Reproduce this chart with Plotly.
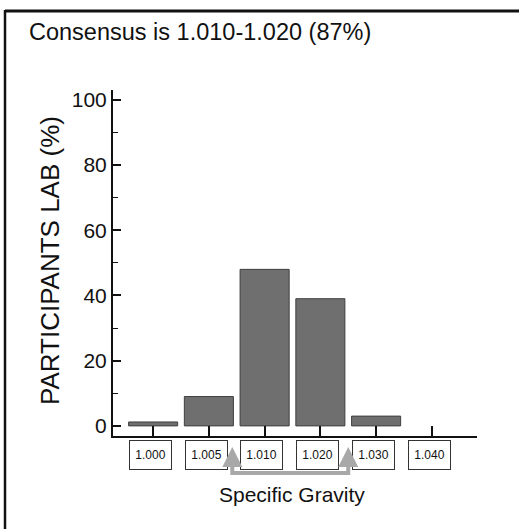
import plotly.graph_objects as go

categories = ["1.000", "1.005", "1.010", "1.020", "1.030", "1.040"]
participants_pct = [1.2, 9, 48, 39, 3, 0]
y_tick_vals = [0, 20, 40, 60, 80, 100]
title_text = "Consensus is 1.010-1.020 (87%)"
x_title = "Specific Gravity"
y_title = "PARTICIPANTS LAB (%)"

W, H = 519, 529
L, R, T, B = 113, 42, 90, 93
pw, ph = W - L - R, H - T - B

def px(xpix):
    return (xpix - L) / pw

def py(ypix):
    return 1 - (ypix - T) / ph

xs = list(range(len(categories)))

fig = go.Figure()
fig.add_trace(go.Bar(
    x=xs, y=participants_pct, width=0.88,
    marker=dict(color="#6f6f6f",
                line=dict(color="#3f3f3f", width=[1 if v > 0 else 0 for v in participants_pct])),
    showlegend=False, hoverinfo="skip",
))

annotations = []
for i, c in enumerate(categories):
    annotations.append(dict(
        x=i - 0.05, y=py(454.5), xref="x", yref="paper", text=c, showarrow=False,
        font=dict(family="Liberation Sans Narrow, Arial Narrow, Liberation Sans, Arial", size=12, color="#111"),
        bordercolor="#333", borderwidth=1, borderpad=0, width=41, height=28,
        bgcolor="white", xanchor="center", yanchor="middle",
    ))
annotations.append(dict(x=px(27), y=py(32), xref="paper", yref="paper", text=title_text,
                        showarrow=False, xanchor="left", yanchor="middle",
                        font=dict(family="Liberation Sans, Arial", size=23.5, color="#111")))
annotations.append(dict(x=px(292), y=py(494), xref="paper", yref="paper", text=x_title,
                        showarrow=False, xanchor="center", yanchor="middle",
                        font=dict(family="Liberation Sans Narrow, Arial Narrow, Liberation Sans, Arial", size=21, color="#111")))
annotations.append(dict(x=px(50), y=py(261), xref="paper", yref="paper", text=y_title,
                        showarrow=False, xanchor="center", yanchor="middle", textangle=-90,
                        font=dict(family="Liberation Sans, Arial", size=26, color="#111")))

shapes = [
    dict(type="line", xref="paper", yref="paper", x0=px(5), x1=px(519), y0=py(11), y1=py(11),
         line=dict(color="#111", width=3), layer="above"),
    dict(type="line", xref="paper", yref="paper", x0=px(5), x1=px(5), y0=py(10), y1=py(529),
         line=dict(color="#111", width=2.5), layer="above"),
]
gray = "#a8a8a8"
xl, xr = 1.5 - 0.08, 3.5 + 0.0
shapes.append(dict(type="path", xref="x", yref="paper",
                   path=f"M {xl},{py(452)} L {xl},{py(473)} L {xr},{py(473)} L {xr},{py(452)}",
                   line=dict(color=gray, width=4)))
for xa in (xl, xr):
    annotations.append(dict(x=xa, y=py(447), xref="x", yref="paper",
                            ax=0, ay=9, text="", showarrow=True,
                            arrowhead=2, arrowsize=1.0, arrowwidth=4, arrowcolor=gray))

fig.update_layout(
    width=W, height=H, margin=dict(l=L, r=R, t=T, b=B),
    paper_bgcolor="white", plot_bgcolor="white",
    annotations=annotations, shapes=shapes,
    font=dict(family="Liberation Sans, Arial", color="#111"),
    xaxis=dict(range=[-0.72, 5.81], tickvals=xs, ticktext=[""] * len(xs),
               ticks="inside", ticklen=10, tickcolor="#111", tickwidth=1.5,
               showline=True, linecolor="#111", linewidth=2, showgrid=False, zeroline=False,
               fixedrange=True),
    yaxis=dict(range=[-3.1, 103], tickvals=y_tick_vals, ticks="inside", ticklen=8,
               tickcolor="#111", tickwidth=1.5, showline=True, linecolor="#111", linewidth=2,
               showgrid=False, zeroline=False,
               tickfont=dict(family="Liberation Sans, Arial", size=21, color="#111"),
               minor=dict(ticks="inside", ticklen=5, dtick=10, tickcolor="#111", tickwidth=1.2),
               fixedrange=True),
)
fig.write_html("out.html", config={"displayModeBar": False},
               post_script="document.body.style.margin='0px';document.body.style.overflow='hidden';window.scrollTo(0,0);")
